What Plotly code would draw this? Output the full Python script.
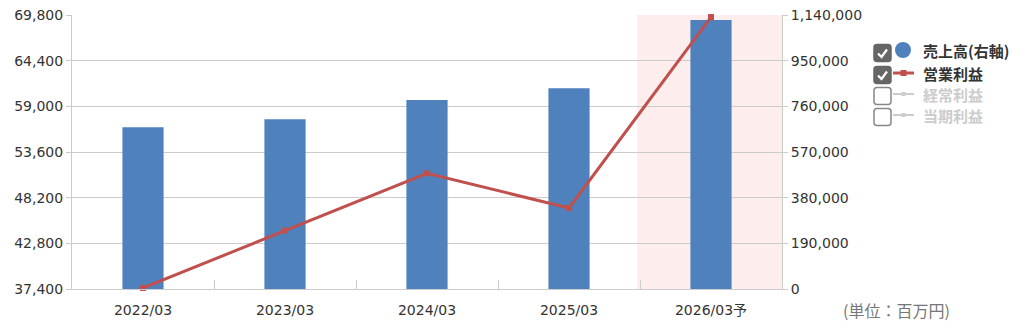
import plotly.graph_objects as go

categories = ["2022/03", "2023/03", "2024/03", "2025/03", "2026/03予"]
sales = [672800, 706000, 786400, 835000, 1119000]          # 売上高 (右軸)
operating_profit = [37520, 44300, 51080, 46980, 69560]     # 営業利益 (左軸)
left_ticks = [37400, 42800, 48200, 53600, 59000, 64400, 69800]
right_ticks = [0, 190000, 380000, 570000, 760000, 950000, 1140000]
forecast_index = 4

W, H = 1024, 329
L, R, T, B = 72, 242, 15, 40
PW, PH = W - L - R, H - T - B

def px(x):
    return (x - L) / PW

def py(y):
    return (H - B - y) / PH

FONT = "DejaVu Sans, Noto Sans CJK JP, sans-serif"
JFONT = "Noto Sans CJK JP, sans-serif"
GRID = "#cccccc"

fig = go.Figure()
fig.add_trace(go.Bar(x=categories, y=sales, marker=dict(color="#4f81bd", line=dict(width=0)),
                     yaxis="y", name="売上高(右軸)", showlegend=False))
fig.add_trace(go.Scatter(x=categories, y=operating_profit, mode="lines+markers", yaxis="y2",
                         line=dict(color="#c0504d", width=3),
                         marker=dict(symbol="square", size=6, color="#c0504d"),
                         name="営業利益", showlegend=False, cliponaxis=False))

shapes = []
# forecast highlight band
shapes.append(dict(type="rect", xref="x", yref="paper", x0=forecast_index - 0.52, x1=forecast_index + 0.5,
                   y0=0, y1=1, fillcolor="#fdeded", line=dict(width=0), layer="below"))

annotations = []

def rounded_box(x0, y0, size, fill, border):
    r = 3
    x1, y1 = x0 + size, y0 + size
    pts = (f"M {px(x0 + r)},{py(y0)} L {px(x1 - r)},{py(y0)} Q {px(x1)},{py(y0)} {px(x1)},{py(y0 + r)} "
           f"L {px(x1)},{py(y1 - r)} Q {px(x1)},{py(y1)} {px(x1 - r)},{py(y1)} "
           f"L {px(x0 + r)},{py(y1)} Q {px(x0)},{py(y1)} {px(x0)},{py(y1 - r)} "
           f"L {px(x0)},{py(y0 + r)} Q {px(x0)},{py(y0)} {px(x0 + r)},{py(y0)} Z")
    return dict(type="path", xref="paper", yref="paper", path=pts, fillcolor=fill,
                line=dict(color=border, width=1.5))

def check(x0, y0):
    p = f"M {px(x0 + 4)},{py(y0 + 9)} L {px(x0 + 7.5)},{py(y0 + 12.5)} L {px(x0 + 13)},{py(y0 + 5)}"
    return dict(type="path", xref="paper", yref="paper", path=p, line=dict(color="white", width=2.2))

legend_rows = [
    ("売上高(右軸)", True, "circle", "#4f81bd", "#333333", 51),
    ("営業利益", True, "line", "#c0504d", "#333333", 73),
    ("経常利益", False, "line", "#cccccc", "#cccccc", 94),
    ("当期利益", False, "line", "#cccccc", "#cccccc", 115),
]
for label, checked, kind, col, tcol, yc in legend_rows:
    bx, size = 874, 17
    if checked:
        shapes.append(rounded_box(bx, yc - size / 2 + 2, size, "#666666", "#666666"))
        shapes.append(check(bx, yc - size / 2 + 2))
    else:
        shapes.append(rounded_box(bx, yc - size / 2 + 2, size, "white", "#888888"))
    if kind == "circle":
        shapes.append(dict(type="circle", xref="paper", yref="paper", x0=px(895), x1=px(911),
                           y0=py(58), y1=py(42), fillcolor=col, line=dict(width=0)))
    else:
        w = 3 if checked else 2
        ms = 3 if checked else 2
        shapes.append(dict(type="line", xref="paper", yref="paper", x0=px(893), x1=px(914),
                           y0=py(yc), y1=py(yc), line=dict(color=col, width=w)))
        shapes.append(dict(type="rect", xref="paper", yref="paper", x0=px(903.5 - ms), x1=px(903.5 + ms),
                           y0=py(yc + ms), y1=py(yc - ms), fillcolor=col, line=dict(width=0)))
    annotations.append(dict(xref="paper", yref="paper", x=px(921), y=py(yc), xanchor="left", yanchor="middle",
                            text=f"<b>{label}</b>", showarrow=False,
                            font=dict(family=JFONT, size=15, color=tcol)))

annotations.append(dict(xref="paper", yref="paper", x=px(896), y=py(310), xanchor="center", yanchor="middle",
                        text="(単位：百万円)", showarrow=False, font=dict(family=JFONT, size=16, color="#777777")))

fig.update_layout(
    width=W, height=H,
    margin=dict(l=L, r=R, t=T, b=B, autoexpand=False),
    paper_bgcolor="white", plot_bgcolor="rgba(0,0,0,0)",
    bargap=0.71,
    showlegend=False,
    shapes=shapes, annotations=annotations,
    font=dict(family=FONT, size=14, color="#333333"),
    xaxis=dict(type="category", showgrid=False, showline=True, linecolor=GRID, linewidth=1,
               ticks="inside", tickson="boundaries", ticklen=9, tickcolor=GRID,
               tickfont=dict(family=FONT, size=14, color="#333333"), ticklabelstandoff=8,
               range=[-0.5, len(categories) - 0.5]),
    yaxis=dict(side="right", range=[0, 1140000], tickvals=right_ticks,
               ticktext=[f"{v:,}" for v in right_ticks],
               showgrid=True, gridcolor=GRID, gridwidth=1, zeroline=False,
               showline=True, linecolor=GRID, ticks="outside", ticklen=5, tickcolor=GRID,
               tickfont=dict(family=FONT, size=14, color="#333333")),
    yaxis2=dict(side="left", overlaying="y", range=[37400, 69800], tickvals=left_ticks,
                ticktext=[f"{v:,}" for v in left_ticks],
                showgrid=False, zeroline=False,
                showline=True, linecolor=GRID, ticks="outside", ticklen=5, tickcolor=GRID,
                tickfont=dict(family=FONT, size=14, color="#333333")),
)

fig.write_html("out.html")
